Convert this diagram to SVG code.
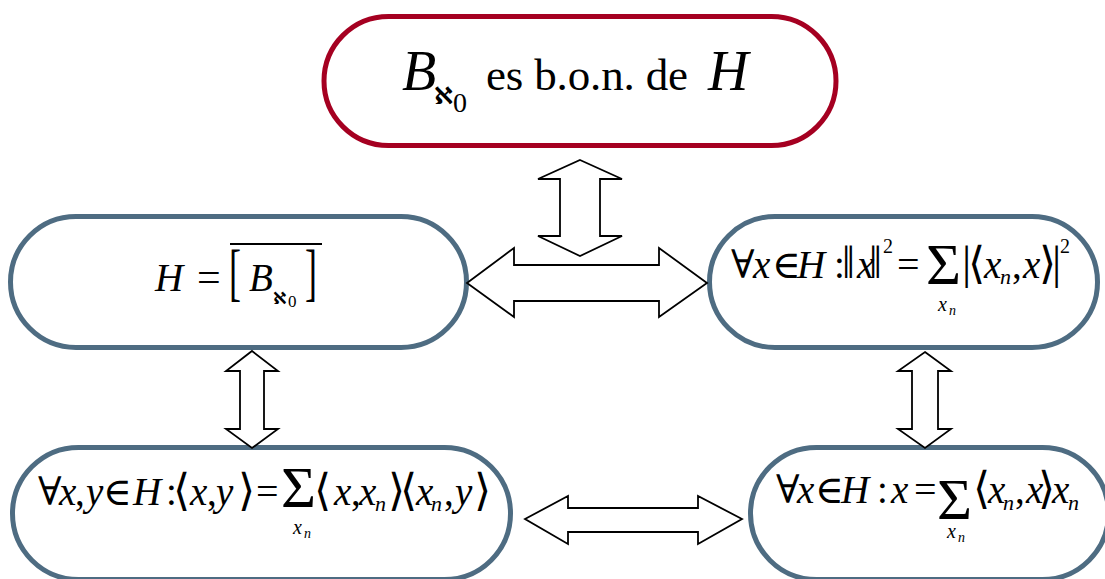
<svg xmlns="http://www.w3.org/2000/svg" width="1105" height="579" viewBox="0 0 1105 579">
<style>
.node{fill:#fff;stroke-width:5}
.red{stroke:#A50021}
.blue{stroke:#4E6C82}
.arr{fill:#fff;stroke:#000;stroke-width:1.8;stroke-linejoin:miter}
text{font-family:"Liberation Serif","DejaVu Serif","DejaVu Sans",serif;fill:#000}
.i{font-style:italic}
.m{font-size:39px}
.ang{font-size:44px}
.bar{font-size:46px}
.sup{font-size:20px}
.sub{font-size:22px;font-style:italic}
.sx{font-size:20px;font-style:italic}
.sn{font-size:14px;font-style:italic}
.sig{font-size:56px}
</style>
<rect width="1105" height="579" fill="#fff"/>
<g id="node-top">
<rect class="node red" x="324" y="16.5" width="512" height="129" rx="64.5"/>
<text x="402" y="90" class="i" font-size="56">B</text>
<text x="434" y="104" font-size="24" font-weight="bold">ℵ</text>
<text x="453" y="112" font-size="28">0</text>
<text x="486" y="90" font-size="45" textLength="202">es b.o.n. de</text>
<text x="708" y="90" class="i" font-size="56">H</text>
</g>
<g id="node-left">
<rect class="node blue" x="10.5" y="216.5" width="456" height="131" rx="65.5"/>
<text x="155" y="291" class="i m">H</text>
<text x="197" y="291" font-size="42">=</text>
<text transform="translate(229,293) scale(1,1.75)" font-size="36">[</text>
<line x1="230" y1="244" x2="322" y2="244" stroke="#000" stroke-width="1.8"/>
<text x="249" y="291" class="i m">B</text>
<text x="273" y="304" font-size="17" font-weight="bold">ℵ</text>
<text x="288" y="307" font-size="17">0</text>
<text transform="translate(305,293) scale(1,1.75)" font-size="36">]</text>
</g>
<g id="node-right">
<rect class="node blue" x="709.5" y="216.5" width="388" height="131" rx="65.5"/>
<text y="278" class="m"><tspan x="731">∀</tspan><tspan x="753" class="i">x</tspan><tspan x="772">∈</tspan><tspan x="797" class="i">H</tspan><tspan x="834">:</tspan><tspan x="842" class="bar">‖</tspan><tspan x="857" class="i">x</tspan><tspan x="869" class="bar">‖</tspan><tspan x="897" font-size="40">=</tspan><tspan x="962" class="bar">|</tspan><tspan x="968" class="ang">⟨</tspan><tspan x="984" class="i">x</tspan><tspan x="1012">,</tspan><tspan x="1023" class="i">x</tspan><tspan x="1039" class="ang">⟩</tspan><tspan x="1052" class="bar">|</tspan></text>
<text x="883" y="253" class="sup">2</text>
<text x="1060" y="253" class="sup">2</text>
<text x="926" y="284" class="sig" textLength="35" lengthAdjust="spacingAndGlyphs">Σ</text>
<text x="1000" y="284" class="sub">n</text>
<text x="938" y="311" class="sx">x</text>
<text x="949" y="315" class="sn">n</text>
</g>
<g id="node-bottom-left">
<rect class="node blue" x="12.5" y="447.5" width="498" height="132" rx="66"/>
<text y="505" class="m"><tspan x="38">∀</tspan><tspan x="59" class="i">x</tspan><tspan x="75">,</tspan><tspan x="86" class="i">y</tspan><tspan x="103">∈</tspan><tspan x="133" class="i">H</tspan><tspan x="166">:</tspan><tspan x="173" class="ang">⟨</tspan><tspan x="190" class="i">x</tspan><tspan x="207">,</tspan><tspan x="216" class="i">y</tspan><tspan x="238" class="ang">⟩</tspan><tspan x="256" font-size="40">=</tspan><tspan x="314" class="ang">⟨</tspan><tspan x="334" class="i">x</tspan><tspan x="351">,</tspan><tspan x="359" class="i">x</tspan><tspan x="388" class="ang">⟩</tspan><tspan x="400" class="ang">⟨</tspan><tspan x="416" class="i">x</tspan><tspan x="444">,</tspan><tspan x="455" class="i">y</tspan><tspan x="474" class="ang">⟩</tspan></text>
<text x="281" y="507" class="sig" textLength="35" lengthAdjust="spacingAndGlyphs">Σ</text>
<text x="375" y="511" class="sub">n</text>
<text x="431" y="511" class="sub">n</text>
<text x="293" y="534" class="sx">x</text>
<text x="304" y="538" class="sn">n</text>
</g>
<g id="node-bottom-right">
<rect class="node blue" x="750.5" y="447.5" width="358" height="132" rx="66"/>
<text y="503" class="m"><tspan x="776">∀</tspan><tspan x="797" class="i">x</tspan><tspan x="815">∈</tspan><tspan x="841" class="i">H</tspan><tspan x="877">:</tspan><tspan x="891" class="i">x</tspan><tspan x="914" font-size="40">=</tspan><tspan x="973" class="ang">⟨</tspan><tspan x="988" class="i">x</tspan><tspan x="1015">,</tspan><tspan x="1026" class="i">x</tspan><tspan x="1038" class="ang">⟩</tspan><tspan x="1052" class="i">x</tspan></text>
<text x="937" y="519" class="sig" textLength="35" lengthAdjust="spacingAndGlyphs">Σ</text>
<text x="1003" y="510" class="sub">n</text>
<text x="1068" y="510" class="sub">n</text>
<text x="947" y="538" class="sx">x</text>
<text x="958" y="542" class="sn">n</text>
</g>
<g id="connectors">
<polygon class="arr" points="580,160 622,179 600,179 600,236 622,236 580,256 538,236 560,236 560,179 538,179"/>
<polygon class="arr" points="467,283 514,248 514,265 659,265 659,248 707,283 659,317 659,301 514,301 514,317"/>
<polygon class="arr" points="252,351 278,371 264,371 264,429 278,429 252,448 226,429 240,429 240,371 226,371"/>
<polygon class="arr" points="925,352 951,371 938,371 938,429 951,429 925,448 898,429 912,429 912,371 898,371"/>
<polygon class="arr" points="525,519 568,496 568,508 698,508 698,496 742,519 698,544 698,532 568,532 568,544"/>
</g>
</svg>
